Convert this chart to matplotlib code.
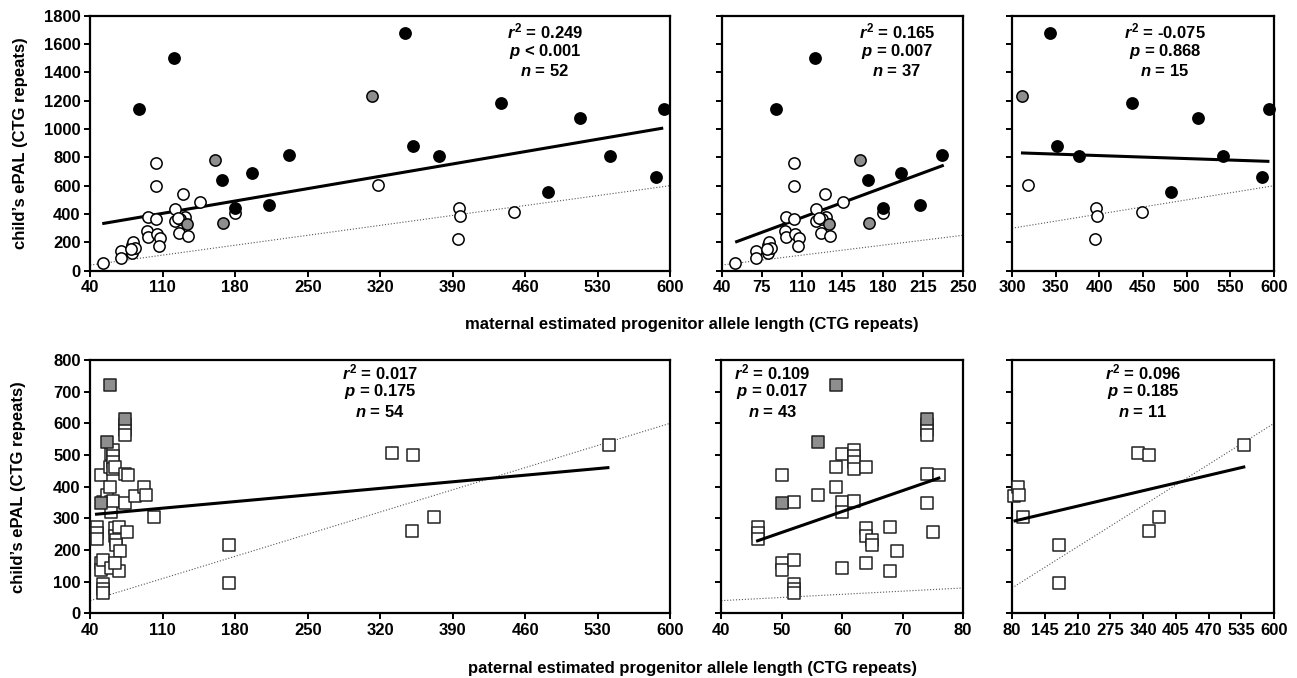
import matplotlib
matplotlib.use('Agg')
import matplotlib.pyplot as plt
import numpy as np

plt.rcParams['font.family'] = ['Liberation Sans', 'DejaVu Sans']
plt.rcParams['font.weight'] = 'bold'
plt.rcParams['mathtext.fontset'] = 'custom'
plt.rcParams['mathtext.rm'] = 'Liberation Sans:bold'
plt.rcParams['mathtext.it'] = 'Liberation Sans:italic:bold'
plt.rcParams['mathtext.bf'] = 'Liberation Sans:bold'

# ---------------- maternal data (top row) ----------------
mat_open_x = [52, 70, 70, 80, 81, 80, 83, 79,
              103, 103, 96, 95, 96, 103, 104, 107, 106,
              122, 122, 126, 130, 131, 134, 146, 180, 127, 125,
              318, 396, 397, 395, 449]
mat_open_y = [55, 138, 88, 181, 205, 122, 162, 150,
              757, 595, 376, 281, 238, 364, 262, 232, 174,
              436, 352, 269, 543, 381, 245, 483, 407, 362, 372,
              606, 440, 386, 227, 417]
mat_black_x = [87, 121, 167, 180, 196, 213, 232,
               344, 352, 377, 437, 482, 513, 542, 586, 594]
mat_black_y = [1140, 1500, 638, 443, 690, 462, 820,
               1681, 883, 807, 1184, 559, 1077, 812, 663, 1139]
mat_gray_x = [160, 168, 133, 312]
mat_gray_y = [781, 340, 329, 1233]

mat_fit_all_x = [53, 592]
mat_fit_all_y = [334, 1005]
mat_fit_low_x = [53, 232]
mat_fit_low_y = [205, 741]
mat_fit_high_x = [312, 593]
mat_fit_high_y = [831, 772]

mat_stats = [("0.249", "<", "0.001", "52"),
             ("0.165", "=", "0.007", "37"),
             ("-0.075", "=", "0.868", "15")]

# ---------------- paternal data (bottom row) ----------------
pat_open_x = [50, 52, 56, 46, 46, 46, 50, 50, 52, 52, 52, 52,
              60, 59, 59, 60, 62, 62, 62, 62, 64, 60, 60, 62,
              64, 64, 65, 65, 68, 69, 68, 64,
              74, 74, 74, 74, 76, 74, 75,
              83, 92, 94, 102, 174, 174, 331, 352, 372, 351, 541]
pat_open_y = [437, 353, 374, 272, 253, 234, 160, 137, 168, 92, 78, 65,
              142, 463, 400, 504, 516, 497, 478, 457, 463, 352, 320, 354,
              268, 245, 232, 215, 271, 197, 135, 160,
              597, 580, 563, 439, 437, 347, 258,
              372, 400, 374, 303, 215, 97, 506, 499, 304, 259, 533]
pat_gray_x = [59, 56, 50, 74]
pat_gray_y = [722, 542, 347, 615]

pat_fit_all_x = [46, 540]
pat_fit_all_y = [313, 460]
pat_fit_low_x = [46, 76]
pat_fit_low_y = [229, 427]
pat_fit_high_x = [86, 540]
pat_fit_high_y = [292, 462]

pat_stats = [("0.017", "=", "0.175", "54"),
             ("0.109", "=", "0.017", "43"),
             ("0.096", "=", "0.185", "11")]

mat_yticks = list(range(0, 1801, 200))
pat_yticks = list(range(0, 801, 100))
mat_xticks = [list(range(40, 601, 70)), list(range(40, 251, 35)), list(range(300, 601, 50))]
pat_xticks = [list(range(40, 601, 70)), list(range(40, 81, 10)), list(range(80, 601, 65))]

ylab = "child\u2019s ePAL (CTG repeats)"
mat_xlab = "maternal estimated progenitor allele length (CTG repeats)"
pat_xlab = "paternal estimated progenitor allele length (CTG repeats)"

GRAY = '#8e8e8e'
FS = 12

W, H = 1297, 678
fig = plt.figure(figsize=(W / 100, H / 100), dpi=100)


def box(l, r, t, b):
    return [l / W, 1 - b / H, (r - l) / W, (b - t) / H]


top_boxes = [box(90.3, 670, 15.7, 270.7), box(721.7, 963, 15.7, 270.7), box(1012, 1274, 15.7, 270.7)]
bot_boxes = [box(90.3, 670, 360, 613.3), box(721.3, 963, 360, 613.3), box(1012, 1274, 360, 613.3)]


def sel(xs, ys, lo, hi):
    pts = [(x, y) for x, y in zip(xs, ys) if lo <= x <= hi]
    return [p[0] for p in pts], [p[1] for p in pts]


def style(ax, xticks, yticks, show_y):
    ax.set_xlim(xticks[0], xticks[-1])
    ax.set_ylim(yticks[0], yticks[-1])
    ax.set_xticks(xticks)
    ax.set_yticks(yticks)
    if not show_y:
        ax.set_yticklabels([])
    for s in ax.spines.values():
        s.set_linewidth(1.6)
    ax.tick_params(direction='out', length=4, width=1.4, labelsize=FS, pad=3)
    for lab in ax.get_xticklabels() + ax.get_yticklabels():
        lab.set_fontweight('bold')


def stats_text(ax, st, xf, yfs):
    r2, op, pv, n = st
    lines = [r"$\mathit{r}^{2}$ = " + r2,
             r"$\mathit{p}$ " + op + " " + pv,
             r"$\mathit{n}$ = " + n]
    for t, yf in zip(lines, yfs):
        ax.text(xf, yf, t, transform=ax.transAxes, ha='center', va='center',
                fontsize=FS, fontweight='bold')


CS = 66   # circle marker area
SS = 76   # square marker area

# ---------- top row ----------
mat_ranges = [(0, 10000), (0, 250), (300, 10000)]
mat_fits = [(mat_fit_all_x, mat_fit_all_y), (mat_fit_low_x, mat_fit_low_y), (mat_fit_high_x, mat_fit_high_y)]
mat_stat_x = [0.784, 0.726, 0.584]
for i in range(3):
    ax = fig.add_axes(top_boxes[i])
    xt = mat_xticks[i]
    lo, hi = mat_ranges[i]
    ax.plot([xt[0], xt[-1]], [xt[0], xt[-1]], linestyle=':', color='#555555', lw=0.8, zorder=1)
    ax.plot(mat_fits[i][0], mat_fits[i][1], color='black', lw=2.2, zorder=2)
    ox, oy = sel(mat_open_x, mat_open_y, lo, hi)
    ax.scatter(ox, oy, s=CS, facecolor='white', edgecolor='black', linewidth=1.1, zorder=3, clip_on=False)
    gx, gy = sel(mat_gray_x, mat_gray_y, lo, hi)
    ax.scatter(gx, gy, s=CS, facecolor=GRAY, edgecolor='black', linewidth=1.1, zorder=4, clip_on=False)
    bx, by = sel(mat_black_x, mat_black_y, lo, hi)
    ax.scatter(bx, by, s=CS, facecolor='black', edgecolor='black', linewidth=1.1, zorder=5, clip_on=False)
    style(ax, xt, mat_yticks, i == 0)
    stats_text(ax, mat_stats[i], mat_stat_x[i], [0.937, 0.859, 0.784])

# ---------- bottom row ----------
pat_ranges = [(0, 10000), (0, 80), (80.5, 10000)]
pat_fits = [(pat_fit_all_x, pat_fit_all_y), (pat_fit_low_x, pat_fit_low_y), (pat_fit_high_x, pat_fit_high_y)]
pat_stat_x = [0.50, 0.21, 0.50]
for i in range(3):
    ax = fig.add_axes(bot_boxes[i])
    xt = pat_xticks[i]
    lo, hi = pat_ranges[i]
    ax.plot([xt[0], xt[-1]], [xt[0], xt[-1]], linestyle=':', color='#555555', lw=0.8, zorder=1)
    ox, oy = sel(pat_open_x, pat_open_y, lo, hi)
    ax.scatter(ox, oy, s=SS, marker='s', facecolor='white', edgecolor='#222222', linewidth=1.1, zorder=3, clip_on=False)
    gx, gy = sel(pat_gray_x, pat_gray_y, lo, hi)
    ax.scatter(gx, gy, s=SS, marker='s', facecolor=GRAY, edgecolor='#222222', linewidth=1.1, zorder=4, clip_on=False)
    ax.plot(pat_fits[i][0], pat_fits[i][1], color='black', lw=2.2, zorder=5)
    style(ax, xt, pat_yticks, i == 0)
    stats_text(ax, pat_stats[i], pat_stat_x[i], [0.95, 0.875, 0.796])

fig.text(692 / W, 1 - 324 / H, mat_xlab, ha='center', va='center', fontsize=FS, fontweight='bold')
fig.text(692 / W, 1 - 668 / H, pat_xlab, ha='center', va='center', fontsize=FS, fontweight='bold')
fig.text(21 / W, 1 - 143 / H, ylab, ha='center', va='center', rotation=90, fontsize=FS, fontweight='bold')
fig.text(19 / W, 1 - 487 / H, ylab, ha='center', va='center', rotation=90, fontsize=FS, fontweight='bold')

fig.savefig('out.png', dpi=100)
